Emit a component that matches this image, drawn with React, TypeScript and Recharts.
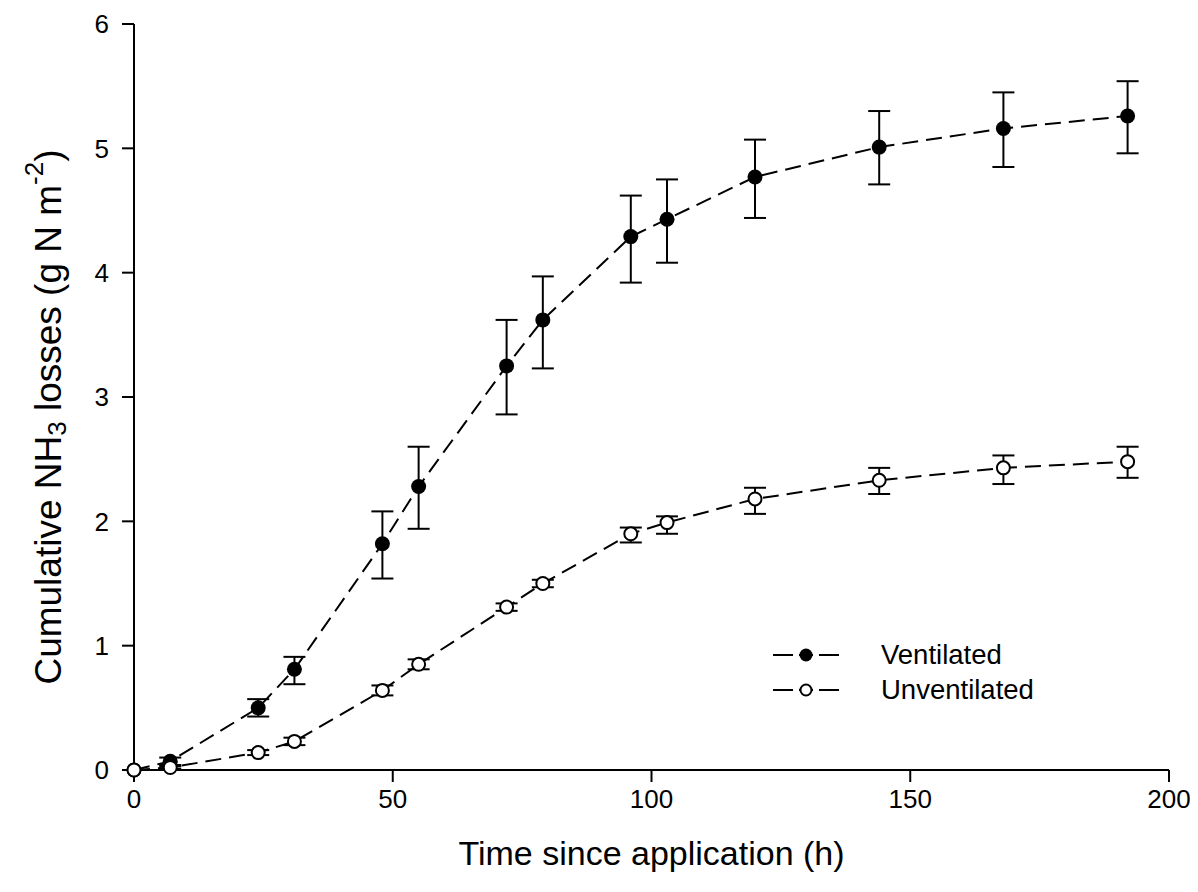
import {
  ComposedChart,
  Line,
  XAxis,
  YAxis,
  ErrorBar,
  Legend,
} from "recharts";

const FONT = '"Liberation Sans", Arial, Helvetica, sans-serif';

// sampling times (h)
const times = [0, 7, 24, 31, 48, 55, 72, 79, 96, 103, 120, 144, 168, 192];

const ventilated = [0, 0.07, 0.5, 0.81, 1.82, 2.28, 3.25, 3.62, 4.29, 4.43, 4.77, 5.01, 5.16, 5.26];
const ventilatedLow = [0, 0.04, 0.43, 0.69, 1.54, 1.94, 2.86, 3.23, 3.92, 4.08, 4.44, 4.71, 4.85, 4.96];
const ventilatedHigh = [0, 0.1, 0.57, 0.91, 2.08, 2.6, 3.62, 3.97, 4.62, 4.75, 5.07, 5.3, 5.45, 5.54];

const unventilated = [0, 0.02, 0.14, 0.23, 0.64, 0.85, 1.31, 1.5, 1.9, 1.99, 2.18, 2.33, 2.43, 2.48];
const unventilatedLow = [0, 0.01, 0.12, 0.2, 0.6, 0.81, 1.28, 1.47, 1.83, 1.9, 2.06, 2.22, 2.3, 2.35];
const unventilatedHigh = [0, 0.03, 0.16, 0.26, 0.68, 0.89, 1.34, 1.53, 1.95, 2.04, 2.27, 2.43, 2.53, 2.6];

const xTicks = [0, 50, 100, 150, 200];
const yTicks = [0, 1, 2, 3, 4, 5, 6];

const seriesNames = ["Ventilated", "Unventilated"];

const errOf = (v: number, lo: number, hi: number) =>
  hi - lo === 0 ? undefined : [v - lo, hi - v];

const data = times.map((t, i) => ({
  t,
  vent: ventilated[i],
  ventErr: errOf(ventilated[i], ventilatedLow[i], ventilatedHigh[i]),
  unvent: unventilated[i],
  unventErr: errOf(unventilated[i], unventilatedLow[i], unventilatedHigh[i]),
}));

const FilledDot = (props: any) => {
  const { cx, cy, index } = props;
  if (cx == null || cy == null) return <g key={`v${index}`} />;
  return <circle key={`v${index}`} cx={cx} cy={cy} r={7.5} fill="#000" />;
};

const OpenDot = (props: any) => {
  const { cx, cy, index } = props;
  if (cx == null || cy == null) return <g key={`u${index}`} />;
  return (
    <circle key={`u${index}`} cx={cx} cy={cy} r={6.5} fill="#fff" stroke="#000" strokeWidth={2} />
  );
};

const LegendBox = () => (
  <div style={{ fontFamily: FONT, fontSize: 27.5, color: "#000" }}>
    {seriesNames.map((name, i) => (
      <div key={name} style={{ display: "flex", alignItems: "center", height: 35 }}>
        <svg width={66} height={20} style={{ marginRight: 42 }}>
          <line x1={0} y1={10} x2={20} y2={10} stroke="#000" strokeWidth={2} />
          <line x1={26} y1={10} x2={40} y2={10} stroke="#000" strokeWidth={2} />
          <line x1={46} y1={10} x2={66} y2={10} stroke="#000" strokeWidth={2} />
          {i === 0 ? (
            <circle cx={33} cy={10} r={6.5} fill="#000" />
          ) : (
            <circle cx={33} cy={10} r={5.5} fill="#fff" stroke="#000" strokeWidth={2} />
          )}
        </svg>
        <span>{name}</span>
      </div>
    ))}
  </div>
);

const XTitle = (props: any) => {
  const { viewBox } = props;
  const cx = viewBox.x + viewBox.width / 2;
  return (
    <text x={cx} y={viewBox.y + 95} textAnchor="middle" fontFamily={FONT} fontSize={34} fill="#000">
      Time since application (h)
    </text>
  );
};

const YTitle = () => {
  const cx = 40;
  const cy = 409;
  return (
    <text
      x={cx}
      y={cy}
      transform={`rotate(-90, ${cx}, ${cy})`}
      textAnchor="middle"
      dominantBaseline="central"
      fontFamily={FONT}
      fontSize={37}
      fill="#000"
    >
      Cumulative NH
      <tspan dy={9} fontSize={26}>3</tspan>
      <tspan dy={-9}> losses (g N m</tspan>
      <tspan dy={-14} fontSize={26}>-2</tspan>
      <tspan dy={14}>)</tspan>
    </text>
  );
};

export default function App() {
  const tickStyle = { fontFamily: FONT, fontSize: 26, fill: "#000" };
  return (
    <div style={{ width: 1190, height: 880 }}>
      <ComposedChart
        width={1190}
        height={880}
        data={data}
        margin={{ top: 16, right: 29, bottom: 18, left: 0 }}
      >
        <XAxis
          dataKey="t"
          type="number"
          domain={[0, 200]}
          ticks={xTicks}
          height={100}
          tickSize={12}
          tickMargin={8}
          tick={tickStyle}
          axisLine={{ stroke: "#000", strokeWidth: 2 }}
          tickLine={{ stroke: "#000", strokeWidth: 2 }}
          label={<XTitle />}
        />
        <XAxis
          xAxisId="top"
          orientation="top"
          dataKey="t"
          type="number"
          domain={[0, 200]}
          height={0}
          tick={false}
          tickLine={false}
          axisLine={{ stroke: "#000", strokeWidth: 2 }}
        />
        <YAxis
          type="number"
          domain={[0, 6]}
          ticks={yTicks}
          width={126}
          tickSize={12}
          tickMargin={13}
          tick={tickStyle}
          axisLine={{ stroke: "#000", strokeWidth: 2 }}
          tickLine={{ stroke: "#000", strokeWidth: 2 }}
          label={<YTitle />}
        />
        <YAxis
          yAxisId="right"
          orientation="right"
          type="number"
          domain={[0, 6]}
          width={0}
          tick={false}
          tickLine={false}
          axisLine={{ stroke: "#000", strokeWidth: 2 }}
        />
        <Legend
          layout="vertical"
          align="center"
          verticalAlign="middle"
          content={<LegendBox />}
          wrapperStyle={{ left: 765, top: 629, width: 300 }}
        />
        <Line
          dataKey="vent"
          name="Ventilated"
          stroke="#000"
          strokeWidth={2}
          strokeDasharray="16 8"
          dot={FilledDot}
          activeDot={false}
          isAnimationActive={false}
        >
          <ErrorBar dataKey="ventErr" width={11} stroke="#000" strokeWidth={2} direction="y" />
        </Line>
        <Line
          dataKey="unvent"
          name="Unventilated"
          stroke="#000"
          strokeWidth={2}
          strokeDasharray="16 8"
          dot={OpenDot}
          activeDot={false}
          isAnimationActive={false}
        >
          <ErrorBar dataKey="unventErr" width={11} stroke="#000" strokeWidth={2} direction="y" />
        </Line>
      </ComposedChart>
    </div>
  );
}
